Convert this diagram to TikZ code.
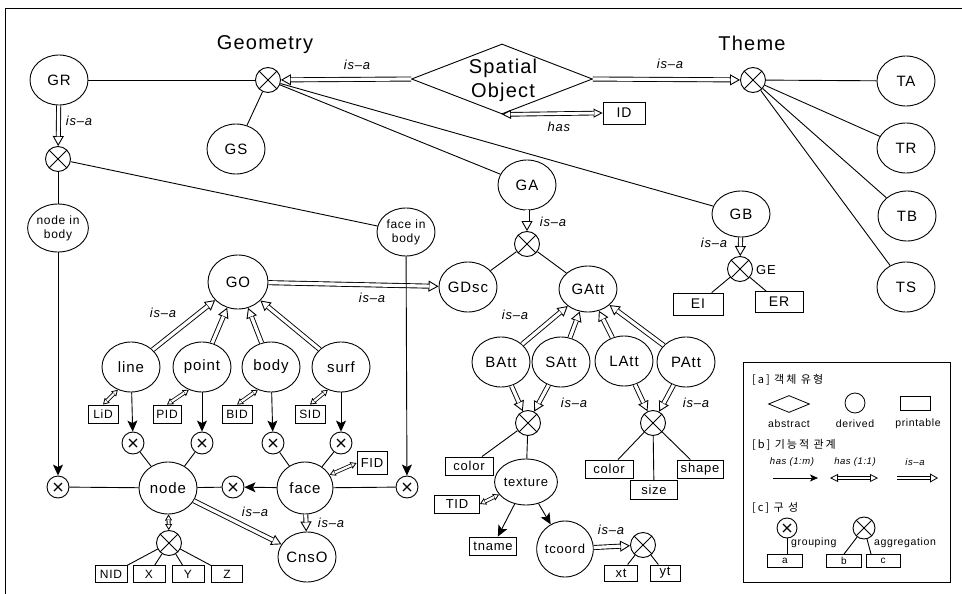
\documentclass[tikz,border=0pt]{standalone}
\usepackage{fontspec}
\setmainfont{Liberation Sans}[LetterSpace=6]
\newfontfamily\krfont{Noto Sans CJK KR}[LetterSpace=18]
\usetikzlibrary{arrows.meta,shapes.geometric}
\newcommand\fsz[1]{\fontsize{#1}{#1}\selectfont}
\newcommand\isaarr[3][]{\draw[isatip,#1] (#2) -- (#3);\draw[isashaft,#1] (#2) -- (#3);}
\newcommand\hasoo[2]{\draw[hootip] (#1) -- (#2);\draw[hooshaft] (#1) -- (#2);}
\newcommand\hasoos[2]{\draw[hootipS] (#1) -- (#2);\draw[hooshaftS] (#1) -- (#2);}
\tikzset{
  base/.style={line width=0.9pt},
  ell/.style={ellipse, draw, base, inner sep=0pt, minimum width=58pt, minimum height=50pt, font=\fsz{15}},
  sell/.style={ellipse, draw, base, inner sep=0pt, minimum width=58pt, minimum height=48pt, align=center, font=\fontsize{12}{14}\selectfont},
  box/.style={rectangle, draw, base, inner sep=0pt, minimum width=32pt, minimum height=18pt, font=\fsz{13}},
  agg/.style={circle, draw, base, inner sep=0pt, minimum size=25pt,
    path picture={\draw[base] (path picture bounding box.north west) -- (path picture bounding box.south east) (path picture bounding box.north east) -- (path picture bounding box.south west);}},
  grp/.style={circle, draw, base, inner sep=0pt, minimum size=22pt,
    path picture={\draw[line width=1.1pt] ([shift={(-4pt,-4pt)}]path picture bounding box.center) -- ([shift={(4pt,4pt)}]path picture bounding box.center) ([shift={(-4pt,4pt)}]path picture bounding box.center) -- ([shift={(4pt,-4pt)}]path picture bounding box.center);}},
  ln/.style={base},
  hasm/.style={base, -{Stealth[length=11pt,width=10pt,inset=2.5pt]}},
  isatip/.style={line width=0.9pt, -{Triangle[open,length=10pt,width=11pt]}},
  isashaft/.style={line width=0.9pt, double, double distance=3.2pt, shorten >=9.6pt},
  hootip/.style={line width=0.9pt, {Triangle[open,length=9pt,width=9pt]}-{Triangle[open,length=9pt,width=9pt]}},
  hooshaft/.style={line width=0.9pt, double, double distance=2.8pt, shorten >=8.6pt, shorten <=8.6pt},
  hootipS/.style={line width=0.8pt, {Triangle[open,length=6pt,width=7pt]}-{Triangle[open,length=6pt,width=7pt]}},
  hooshaftS/.style={line width=0.8pt, double, double distance=2.2pt, shorten >=5.6pt, shorten <=5.6pt},
  lbl/.style={inner sep=0pt, font=\fsz{13}\itshape},
  ttl/.style={inner sep=0pt, font=\fsz{20}},
  leg/.style={inner sep=0pt, font=\fsz{10.5}},
  legk/.style={inner sep=0pt, anchor=west, font=\krfont\fsz{11}},
}
\begin{document}
\begin{tikzpicture}[x=1pt,y=-1pt]
\useasboundingbox (0,0) rectangle (962,594);
\draw[base] (5,594) -- (5,8) -- (962,8);
% ---------- top row
\node[ell] (GR) at (59,80) {GR};
\node[ttl] (geo) at (265,45) {Geometry};
\node[agg] (gx) at (268,80) {};
\node[ell] (GS) at (236,149) {GS};
\node[diamond, draw, base, inner sep=0pt, minimum width=181pt, minimum height=70pt] (SO) at (502,79) {};
\node[inner sep=0pt, align=center, font=\fontsize{20}{24}\selectfont] (SOt) at (503,80) {Spatial\\Object};
\node[box, minimum width=42pt, minimum height=22pt, font=\fsz{14}] (ID) at (624,113) {ID};
\node[ttl] (theme) at (752,43) {Theme};
\node[agg] (tx) at (753,80) {};
\node[ell] (TA) at (906,81) {TA};
\node[ell] (TR) at (906,148) {TR};
\node[ell] (TB) at (907,216) {TB};
\node[ell] (TS) at (906,287) {TS};
\draw[ln] (GR) -- (gx);
\draw[ln] (gx) -- (GS);
\isaarr{SO.west}{gx}
\isaarr{SO.east}{tx}
\hasoo{SO.south}{ID.west}
\node[lbl] (l1) at (357,65) {is–a};
\node[lbl] (l2) at (670,64) {is–a};
\node[lbl] (lhas) at (559,127) {has};
\draw[ln] (tx) -- (TA);
\draw[ln] (tx) -- (TR);
\draw[ln] (tx) -- (TB);
\draw[ln] (tx) -- (TS);
% ---------- GA / GB
\node[ell] (GA) at (527,185) {GA};
\node[ell, minimum height=46pt] (GB) at (741,214) {GB};
\draw[ln] (gx) -- (GA);
\draw[ln] (gx) -- (GB);
\node[agg] (gax) at (527,244) {};
\isaarr{GA}{gax}
\node[lbl] (l3) at (553,222) {is–a};
\node[ell] (GDsc) at (468,287) {GDsc};
\node[ell, minimum height=46pt] (GAtt) at (588,289) {GAtt};
\draw[ln] (gax) -- (GDsc);
\draw[ln] (gax) -- (GAtt);
\node[agg] (gex) at (740,269) {};
\node[inner sep=0pt, anchor=west, font=\fsz{13}] (GEl) at (756,270) {GE};
\isaarr{GB}{gex}
\node[lbl] (l4) at (714,243) {is–a};
\node[box, minimum width=50pt, minimum height=22pt, font=\fsz{14}] (EI) at (698,304) {EI};
\node[box, minimum width=48pt, minimum height=21pt, font=\fsz{14}] (ER) at (779,302) {ER};
\draw[ln] (gex) -- (EI);
\draw[ln] (gex) -- (ER);
% ---------- attributes
\node[ell] (BAtt) at (501,362) {BAtt};
\node[ell] (SAtt) at (561,362) {SAtt};
\node[ell] (LAtt) at (624,361) {LAtt};
\node[ell] (PAtt) at (686,362) {PAtt};
\isaarr{BAtt}{GAtt}
\isaarr{SAtt}{GAtt}
\isaarr{LAtt}{GAtt}
\isaarr{PAtt}{GAtt}
\node[lbl] (l5) at (515,315) {is–a};
\node[agg] (ax1) at (528,423) {};
\node[agg] (ax2) at (653,423) {};
\isaarr{BAtt}{ax1}
\isaarr{SAtt}{ax1}
\isaarr{LAtt}{ax2}
\isaarr{PAtt}{ax2}
\node[lbl] (l6) at (574,403) {is–a};
\node[lbl] (l7) at (696,403) {is–a};
\node[box, minimum width=48pt] (colL) at (469,466) {color};
\node[ell, minimum width=55pt, minimum height=46pt, font=\fsz{13}] (texture) at (526,482) {texture};
\draw[ln] (ax1) -- (colL);
\draw[ln] (ax1) -- (texture);
\node[box, minimum width=45pt] (TID) at (457,504) {TID};
\hasoos{TID.east}{texture.205}
\node[box, minimum width=47pt] (tname) at (493,546) {tname};
\node[ell, minimum width=56pt, minimum height=56pt, font=\fsz{13}] (tcoord) at (565,549) {tcoord};
\draw[hasm] (texture) -- (tname);
\draw[hasm] (texture) -- (tcoord);
\node[agg] (xx) at (643,545) {};
\isaarr{tcoord}{xx}
\node[lbl] (l8) at (611,530) {is–a};
\node[box, minimum width=33pt, minimum height=16pt] (xt) at (621,573) {xt};
\node[box, minimum width=30pt, minimum height=16pt] (yt) at (665,573) {yt};
\draw[ln] (xx) -- (xt);
\draw[ln] (xx) -- (yt);
\node[box, minimum width=48pt] (colR) at (609,469) {color};
\node[box, minimum width=47pt, minimum height=19pt] (size) at (654,490) {size};
\node[box, minimum width=46pt] (shape) at (700,469) {shape};
\draw[ln] (ax2) -- (colR);
\draw[ln] (ax2) -- (size);
\draw[ln] (ax2) -- (shape);
% ---------- geometry objects
\node[agg] (o2) at (58,159) {};
\isaarr{GR}{o2}
\node[lbl] (l9) at (79,121) {is–a};
\node[sell] (nib) at (58,228) {node in\\body};
\node[sell] (fib) at (406,232) {face in\\body};
\draw[ln] (o2) -- (nib);
\draw[ln] (o2) -- (fib);
\node[ell, minimum width=60pt, minimum height=54pt] (GO) at (238,282) {GO};
\isaarr{GO}{GDsc}
\node[lbl] (l10) at (372,298) {is–a};
\node[ell] (line) at (131,367) {line};
\node[ell] (point) at (202,367) {point};
\node[ell] (body) at (271,367) {body};
\node[ell] (surf) at (341,367) {surf};
\isaarr{line}{GO}
\isaarr{point}{GO}
\isaarr{body}{GO}
\isaarr{surf}{GO}
\node[lbl] (l11) at (163,313) {is–a};
\node[box, minimum width=30pt, font=\fsz{12}] (LiD) at (103,414) {LiD};
\node[box, minimum width=28pt, font=\fsz{12}] (PID) at (167,414) {PID};
\node[box, minimum width=30pt, font=\fsz{12}] (BID) at (237,414) {BID};
\node[box, minimum width=30pt, font=\fsz{12}] (SID) at (310,414) {SID};
\hasoos{LiD.north}{line.240}
\hasoos{PID.north}{point.240}
\hasoos{BID.north}{body.240}
\hasoos{SID.north}{surf.240}
\node[grp] (g1) at (133,443) {};
\node[grp] (g2) at (202,443) {};
\node[grp] (g3) at (273,443) {};
\node[grp] (g4) at (341,443) {};
\draw[hasm] (line) -- (g1);
\draw[hasm] (point) -- (g2);
\draw[hasm] (body) -- (g3);
\draw[hasm] (surf) -- (g4);
\node[ell, minimum height=52pt] (node) at (168,488) {node};
\node[ell, minimum width=56pt, minimum height=52pt] (face) at (305,488) {face};
\draw[ln] (g1) -- (node);
\draw[ln] (g2) -- (node);
\draw[ln] (g3) -- (face);
\draw[ln] (g4) -- (face);
\node[grp] (gL) at (58,487) {};
\node[grp] (gM) at (233,487) {};
\node[grp] (gR) at (407,487) {};
\draw[hasm] (nib) -- (gL);
\draw[hasm] (fib) -- (gR);
\draw[ln] (gL) -- (node);
\draw[ln] (node) -- (gM);
\draw[hasm] (face) -- (gM);
\draw[ln] (face) -- (gR);
\node[box, minimum width=30pt, minimum height=23pt] (FID) at (372,463) {FID};
\hasoos{face.28}{FID.west}
\node[ell] (CnsO) at (307,557) {CnsO};
\isaarr{face}{CnsO}
\isaarr{node}{CnsO}
\node[lbl] (l12) at (255,512) {is–a};
\node[lbl] (l13) at (331,523) {is–a};
\node[agg] (nx) at (169,543) {};
\hasoos{node}{nx}
\node[box, minimum width=32pt, minimum height=17pt, font=\fsz{12}] (NID) at (111,574) {NID};
\node[box, minimum width=32pt, minimum height=17pt, font=\fsz{12}] (X) at (149,574) {X};
\node[box, minimum width=32pt, minimum height=17pt, font=\fsz{12}] (Y) at (188,574) {Y};
\node[box, minimum width=31pt, minimum height=17pt, font=\fsz{12}] (Z) at (227,574) {Z};
\draw[ln] (nx) -- (NID);
\draw[ln] (nx) -- (X);
\draw[ln] (nx) -- (Y);
\draw[ln] (nx) -- (Z);
% ---------- legend
\node[draw, base, inner sep=0pt, minimum width=207pt, minimum height=220pt] (legend) at (846.5,472) {};
\node[legk] (la) at (752,380) {[a] 객체 유형};
\node[diamond, draw, line width=0.8pt, inner sep=0pt, minimum width=41pt, minimum height=17pt] (ldia) at (789,404) {};
\node[circle, draw, line width=0.8pt, inner sep=0pt, minimum size=20pt] (lcirc) at (855,403) {};
\node[draw, line width=0.8pt, inner sep=0pt, minimum width=30pt, minimum height=14pt] (lrect) at (915,403) {};
\node[leg] (tabs) at (789,424) {abstract};
\node[leg] (tder) at (855,424) {derived};
\node[leg] (tpri) at (918,424) {printable};
\node[legk] (lb) at (752,445) {[b] 기능적 관계};
\node[leg, font=\fsz{9.5}\itshape] (thm) at (792,462) {has (1:m)};
\node[leg, font=\fsz{9.5}\itshape] (tho) at (855,462) {has (1:1)};
\node[leg, font=\fsz{9.5}\itshape] (tisa) at (915,462) {is–a};
\coordinate (m1) at (773,478);
\coordinate (m2) at (818,478);
\draw[line width=0.8pt, -{Stealth[length=8pt,width=7pt,inset=2pt]}] (m1) -- (m2);
\coordinate (o1) at (830,478);
\coordinate (o2e) at (878,478);
\draw[line width=0.8pt, {Triangle[open,length=8pt,width=8pt]}-{Triangle[open,length=8pt,width=8pt]}] (o1) -- (o2e);
\draw[line width=0.8pt, double, double distance=2.4pt, shorten >=7.6pt, shorten <=7.6pt] (o1) -- (o2e);
\coordinate (i1) at (897,478);
\coordinate (i2) at (938,478);
\draw[line width=0.8pt, -{Triangle[open,length=8pt,width=9pt]}] (i1) -- (i2);
\draw[line width=0.8pt, double, double distance=2.4pt, shorten >=7.6pt] (i1) -- (i2);
\node[legk] (lc) at (752,508) {[c] 구 성};
\node[grp, minimum size=20pt] (lg) at (787,528) {};
\node[draw, line width=0.8pt, inner sep=0pt, minimum width=35pt, minimum height=13pt, font=\fsz{10}] (ba) at (785,561) {a};
\draw[ln] (lg) -- (lg |- ba.north);
\node[leg, anchor=west] (tgr) at (791,543) {grouping};
\node[agg, minimum size=22pt] (lag) at (864,528) {};
\node[draw, line width=0.8pt, inner sep=0pt, minimum width=35pt, minimum height=13pt, font=\fsz{10}] (bb) at (844,561) {b};
\node[draw, line width=0.8pt, inner sep=0pt, minimum width=34pt, minimum height=13pt, font=\fsz{10}] (bc) at (883,561) {c};
\draw[ln] (lag) -- (bb.north);
\draw[ln] (lag) -- (bc.150);
\node[leg, anchor=west] (tag) at (874,543) {aggregation};
\end{tikzpicture}
\end{document}
